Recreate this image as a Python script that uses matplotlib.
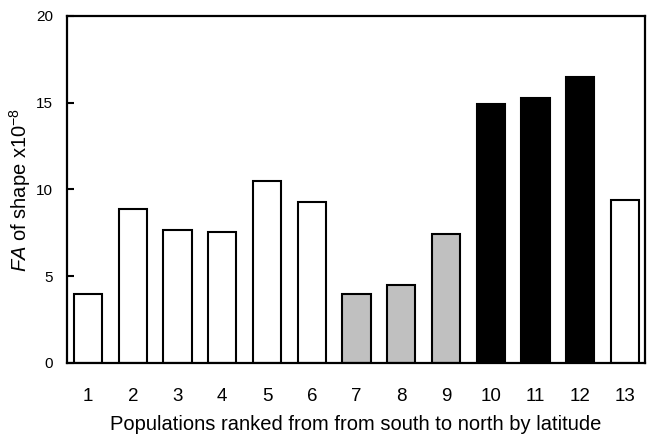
import matplotlib
matplotlib.use('Agg')
import matplotlib.pyplot as plt

populations = [1, 2, 3, 4, 5, 6, 7, 8, 9, 10, 11, 12, 13]
fa_values = [3.95, 8.85, 7.65, 7.55, 10.5, 9.25, 4.0, 4.5, 7.45, 14.9, 15.25, 16.5, 9.4]
groups = ['south', 'south', 'south', 'south', 'south', 'south',
          'mid', 'mid', 'mid', 'north', 'north', 'north', 'south']
group_colors = {'south': 'white', 'mid': '#c0c0c0', 'north': 'black'}

plt.rcParams['font.family'] = 'Liberation Sans'
plt.rcParams['mathtext.fontset'] = 'custom'
plt.rcParams['mathtext.rm'] = 'Liberation Sans'
plt.rcParams['mathtext.it'] = 'Liberation Sans:italic'

fig = plt.figure(figsize=(6.47, 4.41), dpi=100)
ax = fig.add_axes([0.1036, 0.177, 0.8934, 0.787])

ax.bar(populations, fa_values, width=0.63,
       color=[group_colors[g] for g in groups],
       edgecolor='black', linewidth=1.5)

ax.set_xlim(0.53, 13.45)
ax.set_ylim(0, 20)
ax.set_yticks([0, 5, 10, 15, 20])
ax.set_xticks(populations)
ax.tick_params(axis='y', direction='in', length=5, width=1.5, labelsize=11, pad=10)
ax.tick_params(axis='x', length=0, labelsize=13.5, pad=18)
for s in ax.spines.values():
    s.set_linewidth(1.6)

ax.set_xlabel("Populations ranked from from south to north by latitude", fontsize=14.5, labelpad=7)
ax.set_ylabel(r"$\it{FA}$ of shape x10$^{-8}$", fontsize=14.5, labelpad=2)

plt.savefig('out.png', dpi=100)
